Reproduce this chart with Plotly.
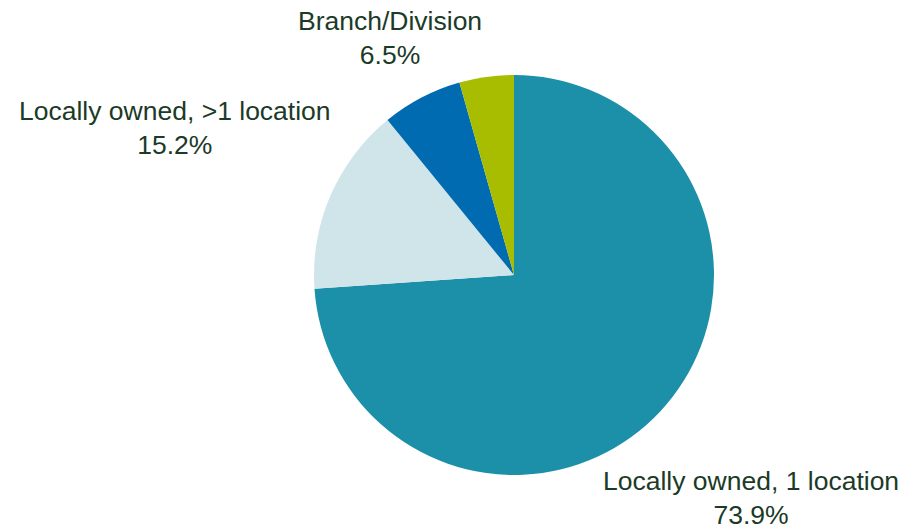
import plotly.graph_objects as go

labels = ["Locally owned, 1 location", "Locally owned, >1 location", "Branch/Division", "Other"]
values = [73.9, 15.2, 6.5, 4.4]
colors = ["#1c8fa9", "#d0e5ea", "#006bb1", "#a8bd00"]
shown = [True, True, True, False]

W, H = 917, 531
cx, cy, r = 514, 275, 200

fig = go.Figure(go.Pie(
    labels=labels, values=values, sort=False, direction="clockwise", rotation=0,
    marker=dict(colors=colors, line=dict(width=0)),
    textinfo="none", hoverinfo="label+percent", showlegend=False,
    domain=dict(x=[(cx - r) / W, (cx + r) / W], y=[1 - (cy + r) / H, 1 - (cy - r) / H]),
))

label_pos = {0: (751, 498), 1: (175, 128), 2: (390, 38)}
for i, (lab, val) in enumerate(zip(labels, values)):
    if not shown[i]:
        continue
    x, y = label_pos[i]
    fig.add_annotation(
        x=x / W, y=1 - y / H, xref="paper", yref="paper",
        text=f"{lab}<br>{val:.1f}%", showarrow=False,
        xanchor="center", yanchor="middle", align="center",
        font=dict(family="Liberation Sans, Arial, sans-serif", size=26.5, color="#1b3a27"),
    )

fig.update_layout(
    width=W, height=H, margin=dict(l=0, r=0, t=0, b=0),
    paper_bgcolor="white", plot_bgcolor="white",
)
fig.write_html(
    "out.html",
    config={"displayModeBar": False},
    post_script="document.body.style.margin='0';document.body.style.padding='0';",
)
